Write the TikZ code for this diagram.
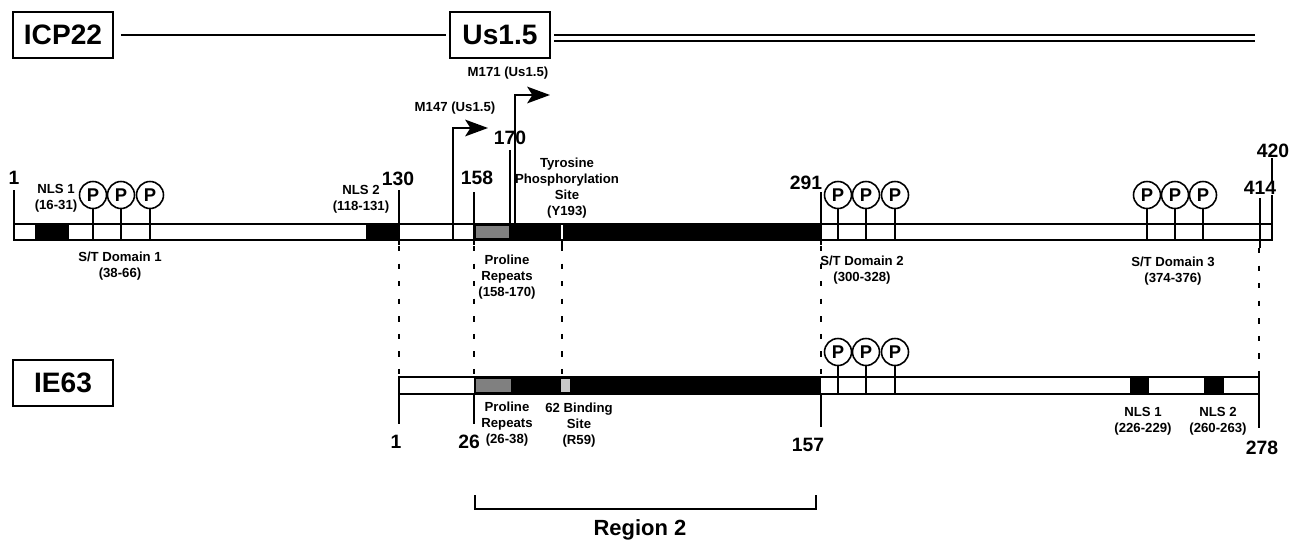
\documentclass[tikz,border=0pt]{standalone}
\usepackage{fontspec}
\setmainfont{Liberation Sans}
\usetikzlibrary{positioning, calc, arrows.meta}
\definecolor{boxgray}{RGB}{128,128,128}
\definecolor{sitegray}{RGB}{200,200,200}

\begin{document}
\begin{tikzpicture}[x=0.02cm, y=-0.02cm, font=\bfseries,
    genebox/.style={draw, line width=1pt, minimum width=2cm, minimum height=0.92cm, inner sep=0pt,
                    font=\fontsize{16}{18}\selectfont\bfseries},
    phos/.style={circle, draw, fill=white, line width=0.9pt, minimum size=0.54cm, inner sep=0pt,
                 font=\fontsize{10.5}{12}\selectfont\bfseries},
    resid/.style={inner sep=0pt, font=\fontsize{11}{12}\selectfont\bfseries},
    note/.style={inner sep=0pt, align=center, font=\fontsize{7.5}{9}\selectfont\bfseries},
    posline/.style={line width=1.1pt},
    outline/.style={line width=0.9pt},
    guide/.style={line width=1.3pt, dash pattern=on 3pt off 7pt},
    startarrow/.style={line width=1.1pt, -{Stealth[length=13pt, width=9.5pt, inset=3pt]}}]

    \useasboundingbox (0,0) rectangle (1302,544);

    % Gene boxes
    \node[genebox] (icp) at (63,35)  {ICP22};
    \node[genebox] (us)  at (500,35) {Us1.5};
    \node[genebox] (ie)  at (63,383) {IE63};
    \coordinate (usend) at (1255,38);
    \draw[line width=1pt, shorten <=4pt, shorten >=2pt] (icp) -- (us);
    \draw[double, double distance=2.8pt, line width=1.1pt, shorten <=2pt] (us.east |- usend) -- (usend);

    % ICP22 bar
    \coordinate (ibot) at (0,240);
    \fill (35,224) rectangle (69,240);
    \fill (366,224) rectangle (399,240);
    \fill (474,224) rectangle (821,240);
    \fill[boxgray] (476,226) rectangle (509,238);
    \draw[white, line width=1pt] (562,225) -- (562,239);
    \draw[outline] (14,224) rectangle (1272,240);

    % ICP22 residues
    \node[resid] (r1)   at (14,178)   {1};
    \node[resid] (r130) at (398,179)  {130};
    \node[resid] (r158) at (477,178)  {158};
    \node[resid] (r170) at (510,138)  {170};
    \node[resid] (r291) at (806,183)  {291};
    \node[resid] (r420) at (1273,151) {420};
    \node[resid] (r414) at (1260,188) {414};
    \draw[posline] (14,190) -- (14,240);
    \draw[posline] (399,190) -- (399,245);
    \draw[posline] (474,192) -- (474,245);
    \draw[posline] (510,150) -- (510,224);
    \draw[posline] (562,240) -- (562,246);
    \draw[posline] (821,192) -- (821,245);
    \draw[posline] (1260,198) -- (1260,248);
    \draw[posline] (r420.south -| 1272,0) -- (r414.north -| 1272,0);
    \draw[posline] (r414.south -| 1272,0) -- (1272,240);

    % Start sites
    \coordinate (m147) at (453,240);
    \coordinate (m147tip) at (488,128);
    \coordinate (m171) at (515,224);
    \coordinate (m171tip) at (550,95);
    \draw[startarrow] (m147) |- (m147tip);
    \draw[startarrow] (m171) |- (m171tip);
    \node[note] (lm147) at (455,108) {M147 (Us1.5)};
    \node[note] (lm171) at (508,73)  {M171 (Us1.5)};

    % ICP22 phosphorylation sites
    \node[phos] (p1) at (93,195)   {P};
    \node[phos] (p2) at (121,195)  {P};
    \node[phos] (p3) at (150,195)  {P};
    \node[phos] (p4) at (838,195)  {P};
    \node[phos] (p5) at (866,195)  {P};
    \node[phos] (p6) at (895,195)  {P};
    \node[phos] (p7) at (1147,195) {P};
    \node[phos] (p8) at (1175,195) {P};
    \node[phos] (p9) at (1203,195) {P};
    \draw[posline] (p1) -- (p1 |- ibot);
    \draw[posline] (p2) -- (p2 |- ibot);
    \draw[posline] (p3) -- (p3 |- ibot);
    \draw[posline] (p4) -- (p4 |- ibot);
    \draw[posline] (p5) -- (p5 |- ibot);
    \draw[posline] (p6) -- (p6 |- ibot);
    \draw[posline] (p7) -- (p7 |- ibot);
    \draw[posline] (p8) -- (p8 |- ibot);
    \draw[posline] (p9) -- (p9 |- ibot);

    % ICP22 labels
    \node[note] (nls1)  at (56,198)   {NLS 1\\(16-31)};
    \node[note] (nls2)  at (361,199)  {NLS 2\\(118-131)};
    \node[note] (st1)   at (120,266)  {S/T Domain 1\\(38-66)};
    \node[note] (st2)   at (862,270)  {S/T Domain 2\\(300-328)};
    \node[note] (st3)   at (1173,271) {S/T Domain 3\\(374-376)};
    \node[note] (pro1)  at (507,277)  {Proline\\Repeats\\(158-170)};
    \node[note] (tyr)   at (567,188)  {Tyrosine\\Phosphorylation\\Site\\(Y193)};

    % Guides between the two proteins
    \coordinate (g130) at (399,246);  \coordinate (e1)   at (399,377);
    \coordinate (g158) at (474,246);  \coordinate (e26)  at (474,377);
    \coordinate (g193) at (562,246);  \coordinate (e59)  at (562,377);
    \coordinate (g291) at (821,246);  \coordinate (e157) at (821,377);
    \coordinate (g414) at (1259,248); \coordinate (e278) at (1259,377);
    \draw[guide] (g130) -- (e1);
    \draw[guide] (g158) -- (e26);
    \draw[guide] (g193) -- (e59);
    \draw[guide] (g291) -- (e157);
    \draw[guide] (g414) -- (e278);

    % IE63 bar
    \coordinate (ebot) at (0,394);
    \fill (474,377) rectangle (821,394);
    \fill[boxgray] (476,379) rectangle (511,392);
    \fill[sitegray] (561,379) rectangle (570,392);
    \fill (1130,377) rectangle (1149,394);
    \fill (1204,377) rectangle (1224,394);
    \draw[outline] (399,377) rectangle (1259,394);
    \draw[posline] (399,377) -- (399,424);
    \draw[posline] (474,394) -- (474,424);
    \draw[posline] (821,394) -- (821,427);
    \draw[posline] (1259,373) -- (1259,428);

    % IE63 phosphorylation sites
    \node[phos] (q1) at (838,352) {P};
    \node[phos] (q2) at (866,352) {P};
    \node[phos] (q3) at (895,352) {P};
    \draw[posline] (q1) -- (q1 |- ebot);
    \draw[posline] (q2) -- (q2 |- ebot);
    \draw[posline] (q3) -- (q3 |- ebot);

    % IE63 residues and labels
    \node[resid] (s1)   at (396,442)  {1};
    \node[resid] (s26)  at (469,442)  {26};
    \node[resid] (s157) at (808,445)  {157};
    \node[resid] (s278) at (1262,448) {278};
    \node[note] (pro2)  at (507,424)  {Proline\\Repeats\\(26-38)};
    \node[note] (bind)  at (579,425)  {62 Binding\\Site\\(R59)};
    \node[note] (enls1) at (1143,421) {NLS 1\\(226-229)};
    \node[note] (enls2) at (1218,421) {NLS 2\\(260-263)};

    % Region 2
    \coordinate (reg1) at (475,495);
    \coordinate (reg2) at (816,495);
    \draw[posline] (reg1) -- ++(0,14) -| (reg2);
    \node[font=\fontsize{12.5}{14}\selectfont\bfseries] (reg) at (640,530) {Region 2};
\end{tikzpicture}
\end{document}
